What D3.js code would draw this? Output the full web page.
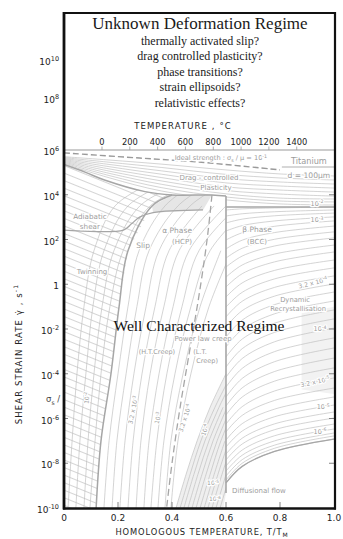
<!DOCTYPE html>
<html>
<head>
<meta charset="utf-8">
<script src="https://cdn.jsdelivr.net/npm/d3@7"></script>
<style>
  body { margin: 0; background: #fff; }
  svg { display: block; }
</style>
</head>
<body>
<svg id="chart" width="343" height="539"></svg>
<script>
// ---------- axis values ----------
const rateTicks = [10, 8, 6, 4, 2, 0, -2, -4, -6, -8, -10];          // log10 of shear strain rate (s^-1)
const homologousTicks = [0, 0.2, 0.4, 0.6, 0.8, 1.0];               // T/TM
const homologousLabels = ["0", "0.2", "0.4", "0.6", "0.8", "1.0"];
const celsiusTicks = [0, 200, 400, 600, 800, 1000, 1200, 1400];
const meltingPointC = 1668;                                          // titanium

// ---------- map geometry: points are [T/TM, log10 strain rate] ----------
const idealStrength = [[0, 5.87], [0.28, 5.64], [0.5, 5.46], [0.8, 5.11]];

const dragContours = [
  [[0, 5.70], [0.17, 5.55], [0.36, 5.37], [0.6, 5.11], [0.8, 4.93], [1, 4.84]],
  [[0, 5.66], [0.17, 5.45], [0.36, 5.22], [0.6, 4.91], [0.8, 4.75], [1, 4.66]],
  [[0, 5.62], [0.17, 5.35], [0.36, 5.07], [0.6, 4.72], [0.8, 4.57], [1, 4.48]],
  [[0, 5.58], [0.17, 5.25], [0.36, 4.92], [0.6, 4.53], [0.8, 4.39], [1, 4.30]],
  [[0, 5.54], [0.17, 5.15], [0.36, 4.77], [0.6, 4.35], [0.8, 4.21], [1, 4.12]],
  [[0, 5.50], [0.17, 5.05], [0.36, 4.62], [0.6, 4.19], [0.8, 4.03], [1, 3.94]],
  [[0, 5.46], [0.17, 4.95], [0.36, 4.47], [0.6, 4.04], [0.8, 3.85], [1, 3.81]],
  [[0, 5.42], [0.17, 4.85], [0.36, 4.32], [0.6, 3.90], [0.8, 3.72], [1, 3.68]],
  [[0, 5.38], [0.17, 4.75], [0.36, 4.17], [0.6, 3.77], [0.8, 3.59], [1, 3.54]]
];

const dragBoundary = [[0, 5.35], [0.08, 5.0], [0.15, 4.66], [0.30, 4.14], [0.40, 3.99], [0.548, 3.99], [0.6, 3.94]];
const slipBoundary = [[0.119, -10], [0.137, -7], [0.174, -4], [0.204, -1], [0.237, 1.5], [0.326, 3.5], [0.40, 3.99]];
const adiabaticBoundary = [[0, 2.42], [0.22, 2.42], [0.25, 2.7], [0.28, 3.0], [0.33, 3.2], [0.515, 3.32]];
const creepBoundary = [[0.548, 3.99], [0.53, 2.0], [0.50, -0.5], [0.465, -3.0], [0.43, -5.5], [0.40, -8.0], [0.38, -10]];
const phaseBoundary = [[0.6, 3.94], [0.6, -9.33]];
const betaTop = [[0.6, 3.45], [1.0, 3.45]];

// alpha-phase stress contours (twinning, slip and power-law fields)
const alphaContours = [
  [[0.015, -10], [0.030, -7], [0.048, -4], [0.074, -1], [0.111, 1.5], [0.189, 3.5], [0.319, 4.5]],
  [[0.044, -10], [0.059, -7], [0.081, -4], [0.107, -1], [0.148, 1.5], [0.237, 3.5], [0.374, 4.5]],
  [[0.074, -10], [0.089, -7], [0.111, -4], [0.141, -1], [0.185, 1.5], [0.281, 3.5], [0.430, 4.5]],
  [[0.096, -10], [0.115, -7], [0.137, -4], [0.170, -1], [0.219, 1.5], [0.319, 3.5], [0.485, 4.5]],
  [[0.148, -10], [0.167, -7], [0.200, -4], [0.237, -1], [0.278, 1.5], [0.374, 3.5], [0.485, 4.5]],
  [[0.178, -10], [0.196, -7], [0.230, -4], [0.270, -1], [0.315, 1.5], [0.422, 3.5], [0.541, 4.5]],
  [[0.207, -10], [0.226, -7], [0.259, -4], [0.304, -1], [0.352, 1.5], [0.467, 3.5], [0.596, 4.5]],
  [[0.237, -10], [0.256, -7], [0.289, -4], [0.337, -1], [0.389, 1.5], [0.511, 3.5]],
  [[0.267, -10], [0.285, -7], [0.319, -4], [0.370, -1], [0.426, 1.5], [0.556, 3.5]],
  [[0.296, -10], [0.315, -7], [0.352, -4], [0.404, -1], [0.463, 1.5], [0.600, 3.5]],
  [[0.322, -10], [0.344, -7], [0.381, -4], [0.437, -1], [0.500, 1.5], [0.644, 3.5]],
  [[0.348, -10], [0.370, -7], [0.411, -4], [0.470, -1], [0.541, 1.5], [0.689, 3.5]],
  [[0.374, -10], [0.396, -7], [0.441, -4], [0.504, -1], [0.581, 1.5]],
  [[0.396, -10], [0.422, -7], [0.470, -4], [0.537, -1], [0.622, 1.5]]
];

// tightly packed alpha contours close to the transus
const alphaBand = [
  [[0.415, -10], [0.452, -8.5], [0.493, -7], [0.541, -5.5], [0.600, -4]],
  [[0.430, -10], [0.467, -8.5], [0.507, -7], [0.559, -5.5], [0.622, -4]],
  [[0.444, -10], [0.481, -8.5], [0.522, -7], [0.574, -5.5], [0.637, -4]],
  [[0.459, -10], [0.496, -8.5], [0.537, -7], [0.589, -5.5]],
  [[0.474, -10], [0.511, -8.5], [0.552, -7], [0.604, -5.5]],
  [[0.489, -10], [0.526, -8.5], [0.567, -7], [0.619, -5.5]],
  [[0.504, -10], [0.541, -8.5], [0.581, -7], [0.633, -5.5]],
  [[0.519, -10], [0.556, -8.5], [0.596, -7]],
  [[0.533, -10], [0.570, -8.5], [0.611, -7]],
  [[0.548, -10], [0.585, -8.5], [0.626, -7]],
  [[0.563, -10], [0.600, -8.5]],
  [[0.578, -10], [0.615, -8.5]]
];

// beta-phase contours: log10 rate at each homologous temperature in betaT
const betaT = [0.6, 0.66, 0.78, 1.0];
const betaContours = [
  [3.32, 3.37, 3.41, 3.45],
  [3.05, 3.15, 3.24, 3.32],
  [2.74, 2.91, 3.06, 3.18],
  [2.38, 2.62, 2.83, 3.01],
  [1.98, 2.30, 2.59, 2.83],
  [1.58, 1.97, 2.31, 2.60],
  [1.17, 1.61, 2.01, 2.34],
  [0.77, 1.26, 1.71, 2.07],
  [0.32, 0.86, 1.35, 1.75],
  [-0.12, 0.47, 1.00, 1.44],
  [-0.57, 0.06, 0.62, 1.08],
  [-1.02, -0.36, 0.24, 0.73],
  [-1.46, -0.76, -0.14, 0.37],
  [-1.91, -1.18, -0.53, 0.01],
  [-2.36, -1.60, -0.91, -0.35],
  [-2.80, -2.02, -1.32, -0.75],
  [-3.25, -2.45, -1.74, -1.15],
  [-3.70, -2.88, -2.15, -1.55],
  [-4.15, -3.32, -2.57, -1.96],
  [-4.59, -3.76, -3.01, -2.40],
  [-5.04, -4.21, -3.46, -2.85],
  [-5.44, -4.63, -3.90, -3.30],
  [-5.84, -5.04, -4.33, -3.74],
  [-6.25, -5.47, -4.77, -4.19],
  [-6.60, -5.86, -5.19, -4.64],
  [-6.96, -6.23, -5.58, -5.04],
  [-7.27, -6.56, -5.92, -5.40],
  [-7.59, -6.88, -6.24, -5.71],
  [-7.85, -7.14, -6.50, -5.98],
  [-8.12, -7.41, -6.77, -6.25],
  [-8.35, -7.64, -7.00, -6.47],
  [-8.57, -7.84, -7.19, -6.65],
  [-8.75, -8.00, -7.33, -6.78],
  [-8.88, -8.14, -7.47, -6.92]
];

// shaded fields
const alphaTopShade = [[0.326, 3.5], [0.40, 3.99], [0.548, 3.99], [0.515, 3.32], [0.33, 3.2]];
const alphaBandShade = [[0.415, -10], [0.452, -8.5], [0.493, -7], [0.541, -5.5], [0.6, -4], [0.6, -9.33], [0.59, -10]];
const recrystShade = [[0.88, -1.3], [1, -1.0], [1, -4.9], [0.88, -4.7]];

// ---------- scales ----------
const x = d3.scaleLinear().domain([0, 1]).range([64, 334]);
const y = d3.scaleLinear().domain([-10, 6, 8, 10]).range([508, 150, 98, 60]);
const xC = d3.scaleLinear().domain([-273.15, meltingPointC]).range([x(0), x(1)]);

const svg = d3.select("#chart");
const line = d3.line().x(d => x(d[0])).y(d => y(d[1])).curve(d3.curveCatmullRom.alpha(0.5));
const straight = d3.line().x(d => x(d[0])).y(d => y(d[1]));
const poly = pts => "M" + pts.map(d => x(d[0]) + "," + y(d[1])).join("L") + "Z";

// text with ^{..} superscripts and _{..} subscripts
function rich(sel, str, size) {
  const parts = str.split(/(\^\{[^}]*\}|_\{[^}]*\})/).filter(p => p);
  let cur = 0;
  parts.forEach(p => {
    let off = 0, fs = size, txt = p;
    if (p.startsWith("^{")) { off = -size * 0.42; fs = size * 0.72; txt = p.slice(2, -1); }
    else if (p.startsWith("_{")) { off = size * 0.25; fs = size * 0.72; txt = p.slice(2, -1); }
    sel.append("tspan").attr("dy", off - cur).attr("font-size", fs).text(txt);
    cur = off;
  });
  return sel;
}

// ---------- clip regions ----------
const defs = svg.append("defs");
const alphaRegion = [[0, -10], [0, 5.35], ...dragBoundary.slice(1), [0.6, -10]];
const dragRegion = [[0, 6], [1, 6], [1, 3.45], [0.6, 3.45], ...dragBoundary.slice().reverse()];
const twinRegion = [[0, -10], ...dragBoundary.slice(0, 5), ...slipBoundary.slice().reverse()];
defs.append("clipPath").attr("id", "clipAlpha").append("path").attr("d", poly(alphaRegion));
defs.append("clipPath").attr("id", "clipDrag").append("path").attr("d", poly(dragRegion));
defs.append("clipPath").attr("id", "clipMap").append("rect")
  .attr("x", x(0)).attr("y", y(6)).attr("width", x(1) - x(0)).attr("height", y(-10) - y(6));
const hatch = defs.append("pattern").attr("id", "hatch")
  .attr("width", 8).attr("height", 7).attr("patternUnits", "userSpaceOnUse")
  .attr("patternTransform", "rotate(22)");
hatch.append("line").attr("x1", 0).attr("x2", 8).attr("y1", 3.5).attr("y2", 3.5)
  .attr("stroke", "#bdbdbd").attr("stroke-width", 0.65);

const map = svg.append("g").attr("clip-path", "url(#clipMap)");

// shaded fields
map.append("path").attr("d", poly(recrystShade)).attr("fill", "#f2f2f2");
map.append("path").attr("d", poly(alphaBandShade)).attr("fill", "#efefef");
map.append("path").attr("d", poly(alphaTopShade)).attr("fill", "#e6e6e6");
map.append("path").attr("d", poly(twinRegion)).attr("fill", "url(#hatch)");

const thin = { stroke: "#bcbcbc", w: 0.65 };

// alpha contours
const gA = map.append("g").attr("clip-path", "url(#clipAlpha)")
  .attr("fill", "none").attr("stroke", thin.stroke).attr("stroke-width", thin.w);
gA.selectAll("path.a").data(alphaContours).join("path").attr("class", "a").attr("d", line);
gA.selectAll("path.b").data(alphaBand).join("path").attr("class", "b").attr("d", line);

// drag-controlled plasticity contours
map.append("g").attr("clip-path", "url(#clipDrag)")
  .attr("fill", "none").attr("stroke", thin.stroke).attr("stroke-width", thin.w)
  .selectAll("path").data(dragContours).join("path").attr("d", line);

// beta contours
map.append("g").attr("fill", "none").attr("stroke", thin.stroke).attr("stroke-width", thin.w)
  .selectAll("path").data(betaContours).join("path")
  .attr("d", c => line(c.map((e, i) => [betaT[i], e])));

// field boundaries
const bnd = map.append("g").attr("fill", "none").attr("stroke", "#a6a6a6");
bnd.append("path").attr("d", line(dragBoundary)).attr("stroke-width", 1.5);
bnd.append("path").attr("d", line(slipBoundary)).attr("stroke-width", 1.5);
bnd.append("path").attr("d", line(adiabaticBoundary)).attr("stroke-width", 1.3);
bnd.append("path").attr("d", straight(phaseBoundary)).attr("stroke-width", 1.6);
bnd.append("path").attr("d", straight(betaTop)).attr("stroke-width", 1.4);
bnd.append("path").attr("d", line(betaContours[betaContours.length - 1].map((e, i) => [betaT[i], e])))
  .attr("stroke-width", 1.3);
bnd.append("path").attr("d", line(creepBoundary)).attr("stroke-width", 1.3).attr("stroke-dasharray", "7,4");
bnd.append("path").attr("d", line(idealStrength)).attr("stroke", "#9a9a9a")
  .attr("stroke-width", 1.4).attr("stroke-dasharray", "6,3");
bnd.append("line").attr("x1", x(0.807)).attr("x2", x(1)).attr("y1", y(5.24)).attr("y2", y(5.24))
  .attr("stroke-width", 0.9);

// field labels
const annotations = [
  { s: "Ideal strength : σ_{s} / μ = 10^{-1}", t: 0.581, e: 5.64, size: 6.6 },
  { s: "Titanium", t: 0.907, e: 5.51, size: 8.2 },
  { s: "d = 100μm", t: 0.907, e: 4.88, size: 7.6 },
  { s: "Drag - controlled", t: 0.537, e: 4.79, size: 7 },
  { s: "Plasticity", t: 0.563, e: 4.30, size: 7 },
  { s: "10^{-2}", t: 0.937, e: 3.59, size: 6.5 },
  { s: "Adiabatic", t: 0.096, e: 3.05, size: 7.2 },
  { s: "shear", t: 0.096, e: 2.60, size: 7.2 },
  { s: "Slip", t: 0.293, e: 1.75, size: 7.5 },
  { s: "α Phase", t: 0.419, e: 2.42, size: 7.5 },
  { s: "(HCP)", t: 0.437, e: 1.89, size: 7 },
  { s: "β Phase", t: 0.715, e: 2.47, size: 7.5 },
  { s: "(BCC)", t: 0.715, e: 1.89, size: 7 },
  { s: "10^{-3}", t: 0.937, e: 2.87, size: 6.5 },
  { s: "Twinning", t: 0.104, e: 0.59, size: 7 },
  { s: "Power law creep", t: 0.515, e: -2.42, size: 7 },
  { s: "(H.T.Creep)", t: 0.344, e: -3.0, size: 6.5 },
  { s: "(L.T.", t: 0.504, e: -3.0, size: 6.5 },
  { s: "Creep)", t: 0.530, e: -3.4, size: 6.5 },
  { s: "3.2 x 10^{-4}", t: 0.922, e: 0.06, size: 6.2, rot: -14 },
  { s: "Dynamic", t: 0.856, e: -0.70, size: 6.8 },
  { s: "Recrystallisation", t: 0.867, e: -1.11, size: 6.8 },
  { s: "10^{-4}", t: 0.948, e: -2.0, size: 6.5 },
  { s: "3.2 x 10^{-5}", t: 0.93, e: -4.37, size: 6.2, rot: -12 },
  { s: "10^{-5}", t: 0.96, e: -5.49, size: 6.5 },
  { s: "10^{-6}", t: 0.948, e: -6.60, size: 6.5 },
  { s: "10^{-5}", t: 0.552, e: -8.88, size: 6 },
  { s: "10^{-6}", t: 0.559, e: -9.6, size: 6 },
  { s: "Diffusional flow", t: 0.722, e: -9.24, size: 7 },
  { s: "10^{-2}", t: 0.085, e: -5.08, size: 6, rot: -85 },
  { s: "3.2 x 10^{-3}", t: 0.256, e: -5.62, size: 6, rot: -78 },
  { s: "10^{-3}", t: 0.348, e: -5.98, size: 6, rot: -75 },
  { s: "3.2 x 10^{-4}", t: 0.448, e: -5.98, size: 6, rot: -72 },
  { s: "10^{-4}", t: 0.522, e: -6.51, size: 6, rot: -70 }
];
const gL = svg.append("g").attr("font-family", "DejaVu Sans, sans-serif").attr("fill", "#9c9c9c")
  .attr("text-anchor", "middle").attr("stroke", "#fff").attr("stroke-width", 2.4)
  .attr("stroke-linejoin", "round").style("paint-order", "stroke");
annotations.forEach(a => {
  const t = gL.append("text")
    .attr("transform", `translate(${x(a.t)},${y(a.e)}) rotate(${a.rot || 0})`)
    .attr("y", a.size * 0.35).attr("font-size", a.size);
  rich(t, a.s, a.size);
});

// ---------- axes ----------
const ax = svg.append("g").attr("font-family", "DejaVu Sans, sans-serif").attr("fill", "#222");

// map top edge with Celsius ticks
svg.append("line").attr("x1", x(0)).attr("x2", x(1)).attr("y1", y(6)).attr("y2", y(6))
  .attr("stroke", "#9a9a9a").attr("stroke-width", 1.1);
svg.selectAll("line.ct").data(celsiusTicks).join("line").attr("class", "ct")
  .attr("x1", d => xC(d)).attr("x2", d => xC(d)).attr("y1", y(6)).attr("y2", y(6) - 3.5)
  .attr("stroke", "#999").attr("stroke-width", 0.8);
ax.selectAll("text.ct").data(celsiusTicks).join("text").attr("class", "ct")
  .attr("x", d => xC(d)).attr("y", y(6) - 5).attr("text-anchor", "middle")
  .attr("font-size", 8.3).text(d => d);
ax.append("text").attr("x", 183).attr("y", 129).attr("text-anchor", "middle")
  .attr("font-size", 8.5).attr("letter-spacing", 1.1).text("TEMPERATURE , °C");

// strain-rate labels
ax.selectAll("text.rt").data(rateTicks).join("text").attr("class", "rt")
  .attr("x", 59).attr("y", d => y(d) + 5).attr("text-anchor", "end").attr("font-size", 9)
  .each(function (d) { rich(d3.select(this), d === 0 ? "1" : `10^{${d}}`, 9); });
const tickEx = rateTicks.filter(d => d < 6 && d > -10);
svg.selectAll("line.rtr").data(tickEx).join("line").attr("class", "rtr")
  .attr("x1", x(1)).attr("x2", x(1) - 5).attr("y1", d => y(d)).attr("y2", d => y(d))
  .attr("stroke", "#777").attr("stroke-width", 0.9);
svg.selectAll("line.rtl").data(tickEx).join("line").attr("class", "rtl")
  .attr("x1", x(0)).attr("x2", x(0) + 4).attr("y1", d => y(d)).attr("y2", d => y(d))
  .attr("stroke", "#777").attr("stroke-width", 0.9);
ax.append("text").attr("x", 46).attr("y", y(-5.15) + 3).attr("font-size", 8.5).attr("fill", "#444")
  .call(s => rich(s, "σ_{s} /", 8.5));

// homologous temperature axis
svg.selectAll("line.ht").data(homologousTicks.slice(1, -1)).join("line").attr("class", "ht")
  .attr("x1", d => x(d)).attr("x2", d => x(d)).attr("y1", y(-10)).attr("y2", y(-10) - 6)
  .attr("stroke", "#777").attr("stroke-width", 0.9);
ax.selectAll("text.ht").data(homologousTicks).join("text").attr("class", "ht")
  .attr("x", d => x(d)).attr("y", 521).attr("text-anchor", "middle").attr("font-size", 9)
  .text((d, i) => homologousLabels[i]);
ax.append("text").attr("x", 202).attr("y", 535).attr("text-anchor", "middle")
  .attr("font-size", 8.3).attr("letter-spacing", 0.9)
  .call(s => rich(s, "HOMOLOGOUS TEMPERATURE, T/T_{M}", 8.3));
ax.append("text").attr("transform", "translate(22,354) rotate(-90)").attr("text-anchor", "middle")
  .attr("font-size", 8.5).attr("letter-spacing", 1.1)
  .call(s => rich(s, "SHEAR STRAIN RATE γ̇ , s^{-1}", 8.5));

// frame
const fr = svg.append("g").attr("stroke", "#111").attr("fill", "none");
fr.append("line").attr("x1", 64).attr("x2", 64).attr("y1", 12).attr("y2", 509.5).attr("stroke-width", 2.8);
fr.append("line").attr("x1", 63).attr("x2", 336).attr("y1", 508.5).attr("y2", 508.5).attr("stroke-width", 2.6);
fr.append("line").attr("x1", 63).attr("x2", 336).attr("y1", 13).attr("y2", 13).attr("stroke-width", 2);
fr.append("line").attr("x1", 335).attr("x2", 335).attr("y1", 12).attr("y2", 509.5).attr("stroke-width", 2.2);

// regime captions
const cap = svg.append("g").attr("font-family", "Liberation Serif, Times New Roman, serif")
  .attr("fill", "#1a1a1a").attr("text-anchor", "middle");
cap.append("text").attr("x", 200).attr("y", 29).attr("font-size", 17).text("Unknown Deformation Regime");
const questions = ["thermally activated slip?", "drag controlled plasticity?", "phase transitions?",
  "strain ellipsoids?", "relativistic effects?"];
const qBase = [45, 60, 75.5, 91, 106.5];
cap.selectAll("text.q").data(questions).join("text").attr("class", "q")
  .attr("x", 200).attr("y", (d, i) => qBase[i]).attr("font-size", 12).text(d => d);
cap.append("text").attr("x", 199).attr("y", 331).attr("font-size", 15.5).attr("fill", "#111")
  .text("Well Characterized Regime");
</script>
</body>
</html>
